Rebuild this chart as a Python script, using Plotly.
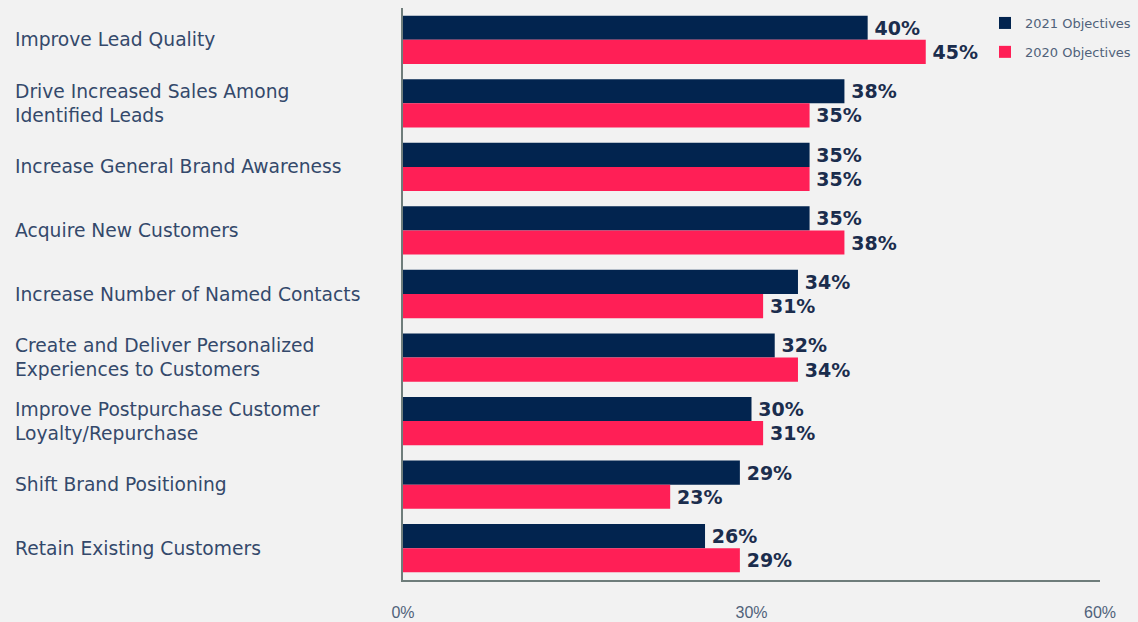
import plotly.graph_objects as go

categories = [
    "Improve Lead Quality",
    "Drive Increased Sales Among<br>Identified Leads",
    "Increase General Brand Awareness",
    "Acquire New Customers",
    "Increase Number of Named Contacts",
    "Create and Deliver Personalized<br>Experiences to Customers",
    "Improve Postpurchase Customer<br>Loyalty/Repurchase",
    "Shift Brand Positioning",
    "Retain Existing Customers",
]
objectives_2021 = [40, 38, 35, 35, 34, 32, 30, 29, 26]
objectives_2020 = [45, 35, 35, 38, 31, 34, 31, 23, 29]
tick_values = [0, 30, 60]
tick_labels = ["0%", "30%", "60%"]

NAVY = "#02244f"
PINK = "#ff1f56"
BG = "#f2f2f2"
LABEL_COLOR = "#34496b"
VALUE_COLOR = "#1b2d4d"

value_font = dict(family="DejaVu Sans", size=19, color=VALUE_COLOR, weight="bold")

fig = go.Figure()
fig.add_trace(go.Bar(
    y=categories, x=objectives_2021, orientation="h", name="2021 Objectives",
    marker=dict(color=NAVY, line=dict(width=0)),
    text=[f"\u2009{v}%" for v in objectives_2021], textposition="outside",
    textfont=value_font, cliponaxis=False, legendgroup="a",
))
fig.add_trace(go.Bar(
    y=categories, x=objectives_2020, orientation="h", name="2020 Objectives",
    marker=dict(color=PINK, line=dict(width=0)),
    text=[f"\u2009{v}%" for v in objectives_2020], textposition="outside",
    textfont=value_font, cliponaxis=False, legendgroup="b",
))

for cat in categories:
    fig.add_annotation(
        x=0, xref="paper", xshift=-390, y=cat, yref="y",
        xanchor="left", yanchor="middle", align="left",
        text=cat, showarrow=False,
        font=dict(family="DejaVu Sans", size=18.7, color=LABEL_COLOR),
    )

fig.update_layout(
    width=1138, height=622,
    margin=dict(l=403, r=38, t=8, b=42, autoexpand=False),
    paper_bgcolor=BG, plot_bgcolor=BG,
    barmode="group", bargap=0.24, bargroupgap=0.0,
    legend=dict(
        x=0.835, y=1.0, xanchor="left", yanchor="top",
        bgcolor="rgba(0,0,0,0)", traceorder="grouped", tracegroupgap=9,
        itemwidth=30,
        font=dict(family="DejaVu Sans", size=13, color="#50627a"),
    ),
    xaxis=dict(
        range=[0, 60], tickvals=tick_values, ticktext=tick_labels,
        showgrid=False, zeroline=False, showline=True,
        linecolor="#6f7d7b", linewidth=2, ticks="",
        ticklabelstandoff=17,
        tickfont=dict(family="Liberation Sans", size=16, color="#50627a"),
    ),
    yaxis=dict(
        autorange="reversed", showticklabels=False, showgrid=False,
        zeroline=False, showline=True, linecolor="#6f7d7b", linewidth=2,
        ticks="",
    ),
    font=dict(family="DejaVu Sans"),
)

fig.write_html(
    "out.html",
    config={"displayModeBar": False},
    post_script="document.body.style.margin='0';document.body.style.background='#f2f2f2';",
)
